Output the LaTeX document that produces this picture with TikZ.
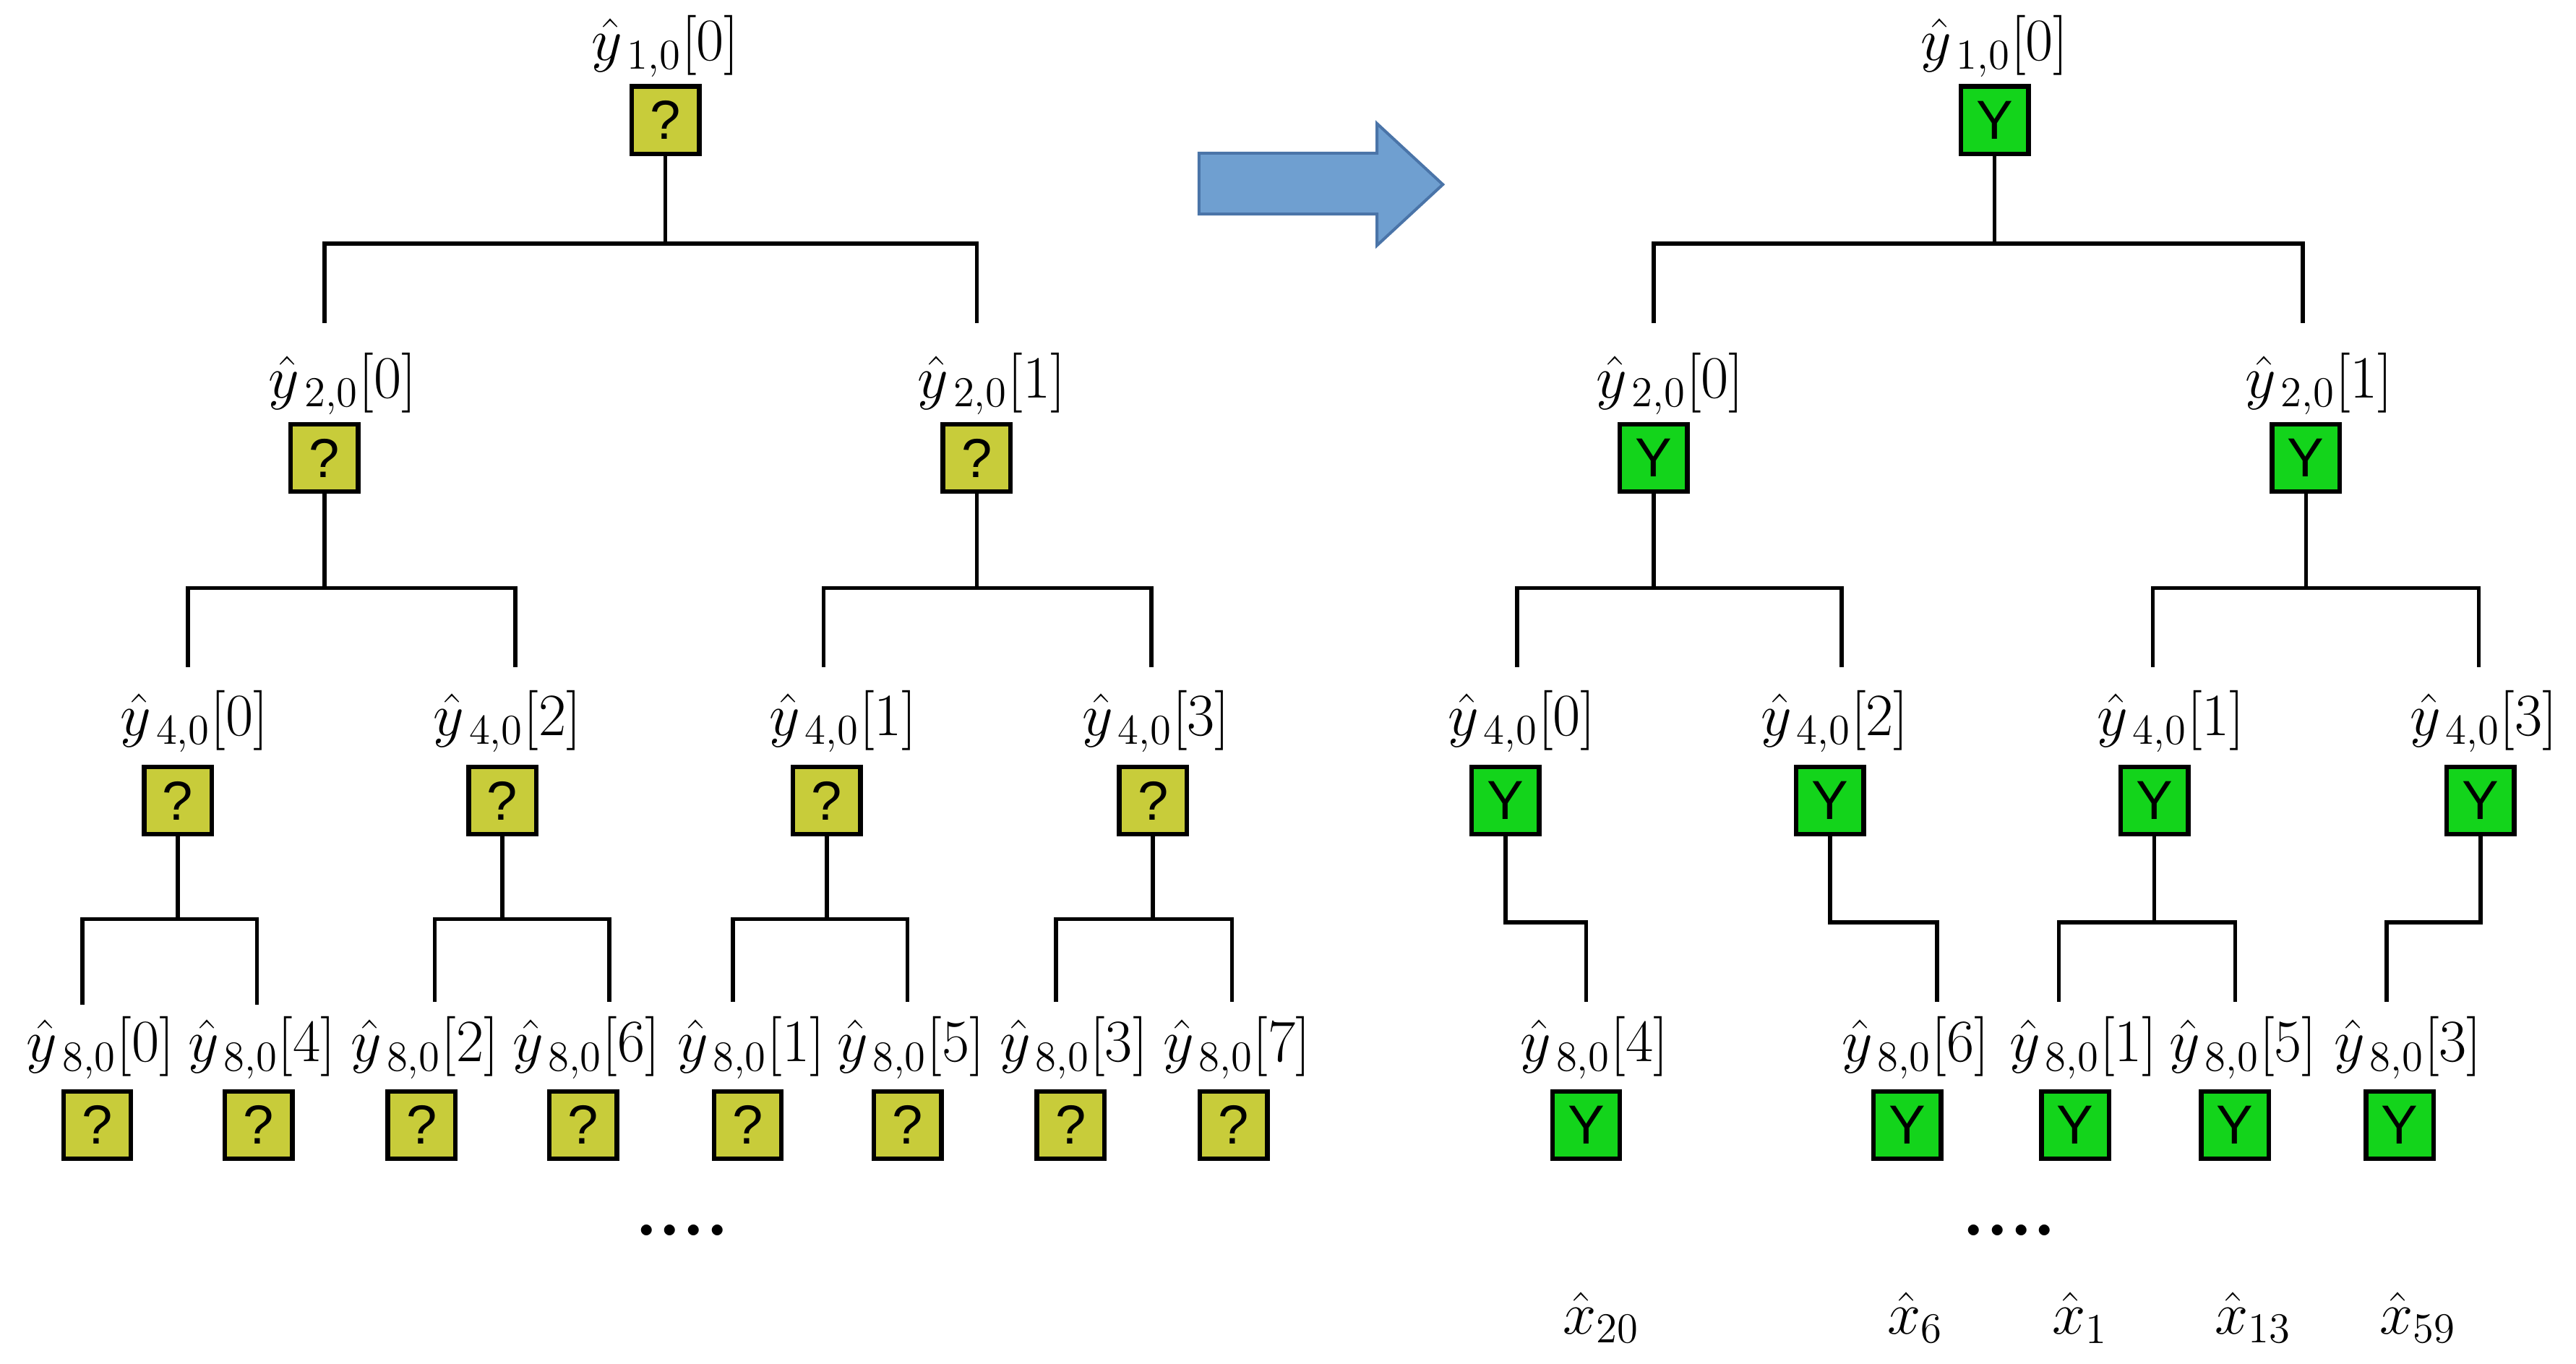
\documentclass[tikz,border=0pt]{standalone}
\usepackage{fontspec}
\newfontfamily\boxfont{Liberation Sans}
\definecolor{qy}{HTML}{C8CC3A}
\definecolor{gy}{HTML}{13D41B}
\definecolor{arf}{HTML}{6F9FD0}
\definecolor{ard}{HTML}{4A74A8}
\newcommand\lab[2]{$\hat{y}_{\,\mathrm{#1}}[#2]$}
\begin{document}
\begin{tikzpicture}[x=0.02cm,y=-0.02cm,
  bx/.style={draw=black,line width=1.6pt,minimum size=0.82cm,inner sep=0pt,font=\boxfont\fontsize{19}{22}\selectfont},
  q/.style={bx,fill=qy},
  g/.style={bx,fill=gy},
  lb/.style={font=\fontsize{21}{24}\selectfont,inner sep=0pt},
  ln/.style={line width=1.4pt}]
\useasboundingbox (0,0) rectangle (1564,828);
\newcommand\tb[5]{\coordinate (#1-h) at (#1.south |- 0,#4);
  \draw[ln] (#1.south) -- (#1-h);
  \draw[ln] (#2,#5) -- (#2,#4) -- (#3,#4) -- (#3,#5);}
% ---------- left tree
\node[q] (A) at (404,73) {?}; \node[lb] (lA) at (404,28) {\lab{1,0}{0}};
\tb{A}{197}{593}{148}{196}
\node[q] (B0) at (197,278) {?}; \node[lb] at (208,233) {\lab{2,0}{0}};
\node[q] (B1) at (593,278) {?}; \node[lb] at (602,233) {\lab{2,0}{1}};
\tb{B0}{114}{313}{357}{405}
\tb{B1}{500}{699}{357}{405}
\node[q] (C0) at (108,486) {?}; \node[lb] at (118,438) {\lab{4,0}{0}};
\node[q] (C2) at (305,486) {?}; \node[lb] at (308,438) {\lab{4,0}{2}};
\node[q] (C1) at (502,486) {?}; \node[lb] at (512,438) {\lab{4,0}{1}};
\node[q] (C3) at (700,486) {?}; \node[lb] at (702,438) {\lab{4,0}{3}};
\tb{C0}{50}{156}{558}{610}
\tb{C2}{264}{370}{558}{608}
\tb{C1}{445}{551}{558}{608}
\tb{C3}{641}{748}{558}{608}
\foreach \n/\x/\v in {D0/59/0,D4/157/4,D2/256/2,D6/354/6,D1/454/1,D5/551/5,D3/650/3,D7/749/7}{
  \node[q] (\n) at (\x,683) {?};
  \node[lb] (l\n) at (\x+2,636) {\lab{8,0}{\v}};}
\node[font=\bfseries\fontsize{26}{26}\selectfont] (dl) at (414,747) {....};
% ---------- arrow
\draw[draw=ard,fill=arf,line width=1pt,line join=miter]
  (728,93) -- (836,93) -- (836,75) -- (876,112) -- (836,149) -- (836,130) -- (728,130) -- cycle;
% ---------- right tree
\node[g] (RA) at (1211,73) {Y}; \node[lb] at (1211,28) {\lab{1,0}{0}};
\tb{RA}{1004}{1398}{148}{196}
\node[g] (RB0) at (1004,278) {Y}; \node[lb] at (1014,233) {\lab{2,0}{0}};
\node[g] (RB1) at (1400,278) {Y}; \node[lb] at (1408,233) {\lab{2,0}{1}};
\tb{RB0}{921}{1118}{357}{405}
\tb{RB1}{1307}{1505}{357}{405}
\node[g] (RC0) at (914,486) {Y}; \node[lb] at (924,438) {\lab{4,0}{0}};
\node[g] (RC2) at (1111,486) {Y}; \node[lb] at (1114,438) {\lab{4,0}{2}};
\node[g] (RC1) at (1308,486) {Y}; \node[lb] at (1318,438) {\lab{4,0}{1}};
\node[g] (RC3) at (1506,486) {Y}; \node[lb] at (1508,438) {\lab{4,0}{3}};
\foreach \n/\x/\v in {RD4/963/4,RD6/1158/6,RD1/1260/1,RD5/1357/5,RD3/1457/3}{
  \node[g] (\n) at (\x,683) {Y};
  \node[lb] (l\n) at (\x+5,636) {\lab{8,0}{\v}};}
\coordinate (e4) at (963,608); \coordinate (e6) at (1176,608);
\coordinate (e3) at (1449,608);
\draw[ln] (RC0.south) |- (e4 |- 0,560) -- (e4);
\draw[ln] (RC2.south) |- (e6 |- 0,560) -- (e6);
\tb{RC1}{1250}{1357}{560}{608}
\draw[ln] (RC3.south) |- (e3 |- 0,560) -- (e3);
\node[font=\bfseries\fontsize{26}{26}\selectfont] (dr) at (1220,747) {....};
\foreach \n/\x/\s in {X20/972/20,X6/1163/6,X1/1263/1,X13/1368/13,X59/1468/59}{
  \node[lb] (\n) at (\x,800) {$\hat{x}_{\mathrm{\s}}$};}
\end{tikzpicture}
\end{document}
